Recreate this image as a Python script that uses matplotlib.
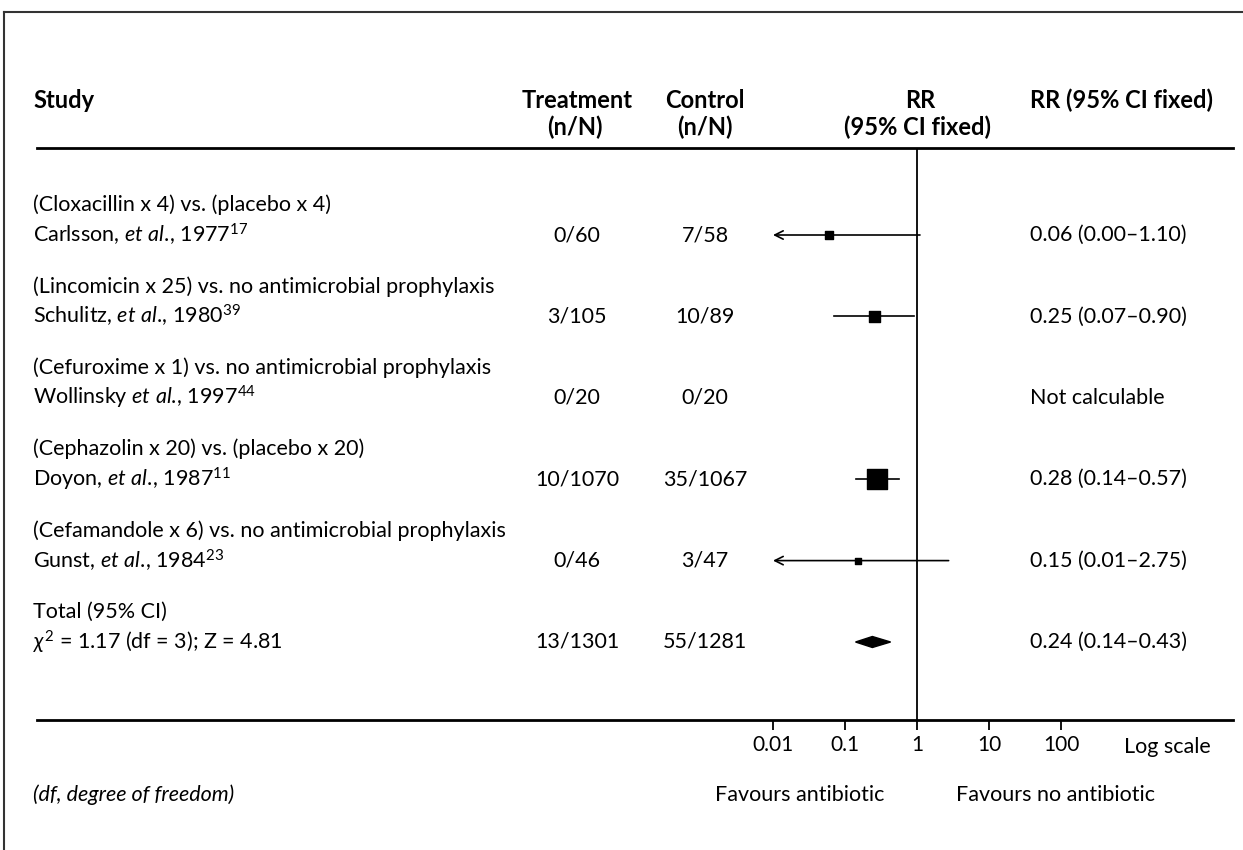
import matplotlib
matplotlib.use("Agg")
import matplotlib.pyplot as plt
from matplotlib.lines import Line2D
from matplotlib.patches import Polygon
from matplotlib.transforms import blended_transform_factory

plt.rcParams['font.family'] = ['Lato', 'DejaVu Sans']
plt.rcParams['mathtext.fontset'] = 'custom'
plt.rcParams['mathtext.rm'] = 'Lato'
plt.rcParams['mathtext.it'] = 'Lato:italic'
plt.rcParams['mathtext.bf'] = 'Lato:bold'

# --- data ---
comparisons = [
    "(Cloxacillin x 4) vs. (placebo x 4)",
    "(Lincomicin x 25) vs. no antimicrobial prophylaxis",
    "(Cefuroxime x 1) vs. no antimicrobial prophylaxis",
    "(Cephazolin x 20) vs. (placebo x 20)",
    "(Cefamandole x 6) vs. no antimicrobial prophylaxis",
]
studies = [
    r"Carlsson, $\mathit{et\ al.}\!$, 1977$^{17}$",
    r"Schulitz, $\mathit{et\ al.}\!$, 1980$^{39}$",
    r"Wollinsky $\mathit{et\ al.}\!$, 1997$^{44}$",
    r"Doyon, $\mathit{et\ al.}\!$, 1987$^{11}$",
    r"Gunst, $\mathit{et\ al.}\!$, 1984$^{23}$",
]
treatment = ["0/60", "3/105", "0/20", "10/1070", "0/46"]
control = ["7/58", "10/89", "0/20", "35/1067", "3/47"]
rr = [0.06, 0.25, None, 0.28, 0.15]
ci_lo = [0.00, 0.07, None, 0.14, 0.01]
ci_hi = [1.10, 0.90, None, 0.57, 2.75]
rr_text = ["0.06 (0.00–1.10)", "0.25 (0.07–0.90)", "Not calculable",
           "0.28 (0.14–0.57)", "0.15 (0.01–2.75)"]
box_px = [8, 11, 0, 20, 6]

total_label = ["Total (95% CI)", r"$\chi^2$ = 1.17 (df = 3); Z = 4.81"]
total_treat = "13/1301"
total_ctrl = "55/1281"
total_rr, total_lo, total_hi = 0.24, 0.14, 0.43
total_text = "0.24 (0.14–0.43)"

ticks = [0.01, 0.1, 1, 10, 100]
tick_labels = ["0.01", "0.1", "1", "10", "100"]
x_min_shown = 0.01

W, H = 1243, 850
fig = plt.figure(figsize=(W / 100, H / 100), dpi=100)

def fx(px):
    return px / W

def fy(py):
    return 1 - py / H

# outer frame (only top and left visible)
fig.add_artist(Line2D([fx(4), fx(4)], [fy(12), 0], color='#333333', lw=1.5))
fig.add_artist(Line2D([fx(4), 1], [fy(12), fy(12)], color='#333333', lw=1.5))

left, right, top, bottom = 37, 1233, 148, 720
ax = fig.add_axes([fx(left), fy(bottom), fx(right - left), (bottom - top) / H])
ax.set_xscale('log')
one_px, decade_px = 917, 72
ax.set_xlim(10 ** ((left - one_px) / decade_px), 10 ** ((right - one_px) / decade_px))
row0, row_step = 235, 81.4
ax.set_ylim((bottom - row0) / row_step, (top - row0) / row_step)
for s in ['left', 'right']:
    ax.spines[s].set_visible(False)
for s in ['top', 'bottom']:
    ax.spines[s].set_linewidth(2)
ax.set_yticks([])
ax.set_xticks(ticks)
ax.set_xticklabels(tick_labels)
ax.minorticks_off()
ax.tick_params(axis='x', direction='out', length=7, width=1.3, labelsize=15, pad=4)
ax.axvline(1, color='black', lw=1.3)
ax.patch.set_alpha(0)

tr = blended_transform_factory(fig.transFigure, ax.transData)
fs = 15.5
x_text, x_treat, x_ctrl, x_rr = 33, 577, 705, 1030
line_off = 30 / row_step

for i in range(len(studies)):
    ax.text(fx(x_text), i - line_off, comparisons[i], transform=tr, fontsize=fs, va='center')
    ax.text(fx(x_text), i, studies[i], transform=tr, fontsize=fs, va='center')
    ax.text(fx(x_treat), i, treatment[i], transform=tr, fontsize=fs, va='center', ha='center')
    ax.text(fx(x_ctrl), i, control[i], transform=tr, fontsize=fs, va='center', ha='center')
    ax.text(fx(x_rr), i, rr_text[i], transform=tr, fontsize=fs, va='center')
    if rr[i] is None:
        continue
    if ci_lo[i] <= x_min_shown:
        ax.annotate('', xy=(x_min_shown, i), xytext=(ci_hi[i], i),
                    arrowprops=dict(arrowstyle='->,head_length=0.6,head_width=0.3',
                                    lw=1.2, color='black', shrinkA=0, shrinkB=0))
    else:
        ax.plot([ci_lo[i], ci_hi[i]], [i, i], color='black', lw=1.2)
    ax.scatter([rr[i]], [i], marker='s', s=(box_px[i] * 0.72) ** 2, color='black', zorder=3)

it = len(studies)
ax.text(fx(x_text), it - line_off, total_label[0], transform=tr, fontsize=fs, va='center')
ax.text(fx(x_text), it, total_label[1], transform=tr, fontsize=fs, va='center')
ax.text(fx(x_treat), it, total_treat, transform=tr, fontsize=fs, va='center', ha='center')
ax.text(fx(x_ctrl), it, total_ctrl, transform=tr, fontsize=fs, va='center', ha='center')
ax.text(fx(x_rr), it, total_text, transform=tr, fontsize=fs, va='center')
dh = 5.5 / row_step
ax.add_patch(Polygon([(total_lo, it), (total_rr, it - dh), (total_hi, it), (total_rr, it + dh)],
                     closed=True, color='black'))

# headers
hb = dict(fontsize=17, fontweight='bold', va='center')
fig.text(fx(x_text), fy(100), "Study", **hb)
fig.text(fx(577), fy(100), "Treatment", ha='center', **hb)
fig.text(fx(575), fy(127), "(n/N)", ha='center', **hb)
fig.text(fx(705), fy(100), "Control", ha='center', **hb)
fig.text(fx(705), fy(127), "(n/N)", ha='center', **hb)
fig.text(fx(920), fy(100), "RR", ha='center', **hb)
fig.text(fx(918), fy(127), "(95% CI fixed)", ha='center', **hb)
fig.text(fx(x_rr), fy(100), "RR (95% CI fixed)", **hb)

# footer
fig.text(fx(1167), fy(747), "Log scale", fontsize=fs, ha='center', va='center')
fig.text(fx(800), fy(795), "Favours antibiotic", fontsize=fs, ha='center', va='center')
fig.text(fx(1056), fy(795), "Favours no antibiotic", fontsize=fs, ha='center', va='center')
fig.text(fx(x_text), fy(795), "(df, degree of freedom)", fontsize=fs, style='italic', va='center')

fig.savefig("out.png", dpi=100)
